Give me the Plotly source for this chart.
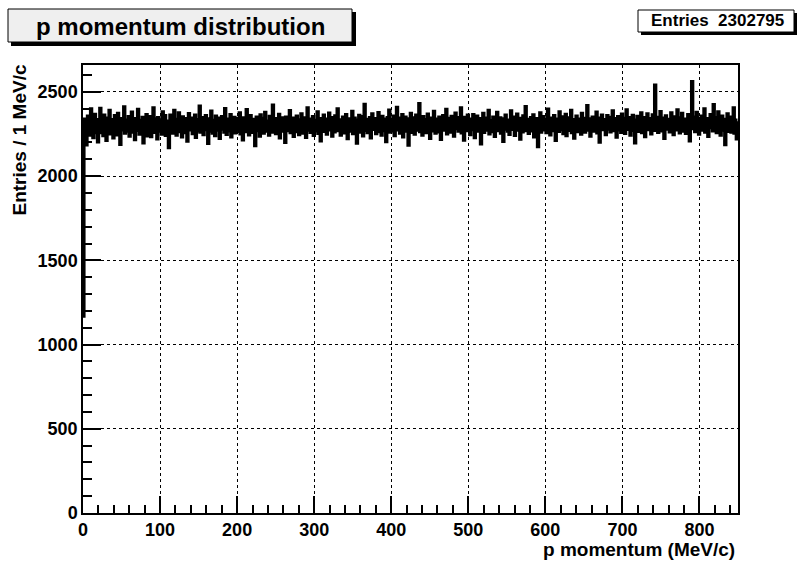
import plotly.graph_objects as go

# ---- data ----
title_text = "p momentum distribution"
stats_text = "Entries  2302795"
x_title = "p momentum (MeV/c)"
y_title = "Entries / 1 MeV/c"
bin_width = 1
x_min, x_max = 0, 850
y_min, y_max = 0, 2660

counts = [
    1170, 2291, 2338, 2262, 2187, 2315, 2356, 2274, 2302, 2245, 2398, 2321, 2283, 2230, 2347, 2366, 2259, 2312, 2290, 2205,
    2334, 2278, 2401, 2259, 2317, 2296, 2241, 2362, 2288, 2325, 2213, 2344, 2306, 2270, 2389, 2252, 2319, 2297, 2335, 2228,
    2281, 2358, 2310, 2246, 2303, 2372, 2265, 2329, 2190, 2294, 2341, 2276, 2318, 2410, 2257, 2300, 2332, 2269, 2287, 2353,
    2238, 2311, 2296, 2379, 2262, 2324, 2285, 2218, 2340, 2307, 2273, 2395, 2292, 2251, 2330, 2316, 2264, 2348, 2199, 2309,
    2327, 2283, 2365, 2240, 2299, 2314, 2271, 2352, 2236, 2320, 2288, 2405, 2261, 2305, 2339, 2278, 2223, 2346, 2295, 2312,
    2268, 2333, 2250, 2380, 2301, 2286, 2358, 2243, 2317, 2294, 2325, 2170, 2306, 2361, 2279, 2338, 2257, 2299, 2390, 2272,
    2313, 2245, 2336, 2289, 2374, 2266, 2302, 2327, 2234, 2351, 2293, 2318, 2260, 2341, 2284, 2209, 2322, 2370, 2276, 2305,
    2296, 2343, 2254, 2318, 2287, 2362, 2231, 2309, 2335, 2270, 2299, 2415, 2263, 2324, 2282, 2347, 2248, 2311, 2290, 2358,
    2277, 2321, 2195, 2339, 2303, 2268, 2385, 2292, 2256, 2330, 2314, 2241, 2356, 2285, 2308, 2274, 2344, 2226, 2319, 2297,
    2352, 2280, 2329, 2262, 2400, 2306, 2249, 2337, 2291, 2315, 2270, 2364, 2235, 2301, 2326, 2283, 2348, 2258, 2311, 2293,
    2340, 2267, 2304, 2375, 2252, 2323, 2288, 2217, 2345, 2298, 2312, 2265, 2394, 2279, 2330, 2246, 2307, 2359, 2284, 2320,
    2261, 2336, 2290, 2183, 2317, 2349, 2272, 2305, 2328, 2239, 2363, 2295, 2281, 2342, 2256, 2310, 2378, 2268, 2301, 2325,
    2287, 2244, 2354, 2299, 2318, 2263, 2420, 2277, 2331, 2292, 2253, 2340, 2308, 2275, 2366, 2228, 2314, 2296, 2345, 2269,
    2323, 2285, 2201, 2350, 2306, 2271, 2337, 2294, 2388, 2259, 2316, 2282, 2343, 2237, 2309, 2327, 2266, 2355, 2291, 2302,
    2248, 2333, 2278, 2369, 2300, 2257, 2321, 2289, 2345, 2232, 2312, 2404, 2274, 2297, 2338, 2261, 2319, 2286, 2352, 2243,
    2307, 2330, 2270, 2293, 2381, 2255, 2324, 2298, 2210, 2341, 2283, 2315, 2362, 2267, 2304, 2337, 2250, 2318, 2292, 2373,
    2276, 2309, 2346, 2238, 2322, 2295, 2264, 2357, 2286, 2313, 2398, 2272, 2301, 2333, 2245, 2326, 2289, 2349, 2258, 2311,
    2297, 2365, 2280, 2224, 2339, 2305, 2269, 2328, 2291, 2383, 2254, 2316, 2343, 2277, 2308, 2197, 2331, 2296, 2360, 2263,
    2320, 2284, 2352, 2240, 2312, 2425, 2273, 2299, 2336, 2260, 2318, 2288, 2347, 2229, 2306, 2369, 2279, 2324, 2293, 2341,
    2253, 2310, 2287, 2376, 2266, 2329, 2302, 2245, 2354, 2295, 2318, 2271, 2338, 2206, 2304, 2347, 2283, 2391, 2262, 2315,
    2298, 2334, 2270, 2356, 2242, 2321, 2289, 2408, 2276, 2305, 2343, 2257, 2327, 2293, 2364, 2235, 2312, 2280, 2350, 2268,
    2309, 2326, 2186, 2339, 2294, 2372, 2261, 2316, 2285, 2345, 2250, 2303, 2361, 2274, 2320, 2297, 2430, 2266, 2331, 2289,
    2244, 2353, 2307, 2279, 2335, 2259, 2318, 2367, 2282, 2300, 2226, 2344, 2291, 2325, 2270, 2384, 2304, 2256, 2337, 2295,
    2313, 2264, 2349, 2287, 2219, 2330, 2301, 2359, 2275, 2322, 2290, 2396, 2252, 2316, 2342, 2278, 2307, 2263, 2354, 2298,
    2327, 2239, 2311, 2373, 2284, 2303, 2346, 2268, 2319, 2292, 2405, 2258, 2334, 2286, 2215, 2348, 2299, 2321, 2272, 2362,
    2290, 2310, 2247, 2338, 2302, 2277, 2365, 2294, 2230, 2327, 2314, 2355, 2269, 2300, 2341, 2283, 2192, 2323, 2296, 2371,
    2261, 2318, 2289, 2343, 2274, 2306, 2390, 2252, 2329, 2298, 2312, 2266, 2350, 2285, 2237, 2336, 2304, 2378, 2271, 2316,
    2293, 2345, 2256, 2322, 2300, 2208, 2339, 2281, 2361, 2297, 2315, 2268, 2332, 2249, 2308, 2387, 2279, 2325, 2291, 2349,
    2243, 2311, 2295, 2368, 2275, 2330, 2287, 2221, 2342, 2306, 2264, 2357, 2298, 2319, 2412, 2272, 2303, 2336, 2255, 2324,
    2289, 2347, 2270, 2308, 2363, 2234, 2317, 2294, 2340, 2282, 2176, 2326, 2301, 2374, 2262, 2313, 2288, 2352, 2276, 2299,
    2335, 2259, 2320, 2397, 2284, 2307, 2246, 2344, 2292, 2329, 2271, 2358, 2303, 2214, 2338, 2286, 2315, 2267, 2380, 2296,
    2324, 2278, 2351, 2254, 2310, 2290, 2366, 2241, 2327, 2302, 2345, 2273, 2312, 2389, 2260, 2334, 2298, 2227, 2320, 2284,
    2356, 2305, 2266, 2337, 2292, 2318, 2250, 2371, 2281, 2309, 2342, 2263, 2326, 2295, 2418, 2274, 2303, 2339, 2238, 2315,
    2287, 2350, 2299, 2269, 2332, 2306, 2379, 2258, 2321, 2284, 2203, 2344, 2301, 2362, 2277, 2316, 2293, 2335, 2248, 2310,
    2359, 2280, 2325, 2296, 2264, 2348, 2304, 2386, 2271, 2319, 2289, 2340, 2233, 2307, 2353, 2276, 2329, 2297, 2261, 2367,
    2285, 2314, 2342, 2255, 2308, 2392, 2279, 2323, 2290, 2346, 2244, 2312, 2300, 2360, 2273, 2331, 2198, 2318, 2288, 2354,
    2267, 2305, 2338, 2282, 2375, 2259, 2321, 2294, 2347, 2236, 2313, 2302, 2369, 2278, 2326, 2287, 2341, 2252, 2309, 2363,
    2296, 2273, 2540, 2315, 2284, 2348, 2261, 2330, 2299, 2382, 2270, 2318, 2290, 2343, 2225, 2307, 2357, 2281, 2324, 2295,
    2336, 2264, 2311, 2374, 2287, 2320, 2248, 2351, 2301, 2329, 2276, 2393, 2292, 2316, 2258, 2345, 2305, 2372, 2268, 2314,
    2289, 2338, 2255, 2322, 2300, 2364, 2279, 2211, 2333, 2297, 2560, 2318, 2284, 2349, 2266, 2310, 2377, 2291, 2327, 2250,
    2343, 2302, 2274, 2356, 2318, 2285, 2398, 2262, 2325, 2306, 2340, 2237, 2312, 2289, 2365, 2296, 2331, 2270, 2423, 2308,
    2281, 2347, 2259, 2316, 2380, 2293, 2327, 2244, 2310, 2355, 2275, 2320, 2298, 2188, 2336, 2302, 2369, 2267, 2313, 2286,
    2350, 2263, 2319, 2295, 2404, 2257, 2331, 2290, 2222, 2315,
]

# ---- layout geometry (pixels) ----
W, H = 803, 563
L, R, T, B = 83, 65, 65, 50
PW, PH = W - L - R, H - T - B


def px(xp):
    return (xp - L) / PW


def py(yp):
    return (H - B - yp) / PH


edges = [x_min + i * bin_width for i in range(len(counts) + 1)]
yvals = counts + [counts[-1]]

fig = go.Figure()
fig.add_trace(go.Scatter(
    x=edges, y=yvals, mode="lines", line=dict(color="black", width=3.6, shape="hv"),
    hoverinfo="skip", showlegend=False,
))

font_fam = "Liberation Sans, Arial, Helvetica, sans-serif"

axis_common = dict(
    showline=True, linecolor="black", linewidth=1.5, mirror=True,
    ticks="inside", tickcolor="black", tickwidth=1.5,
    showgrid=True, gridcolor="black", gridwidth=1, griddash="dot",
    zeroline=False,
    tickfont=dict(family=font_fam, size=18, color="black", weight="bold"),
)

fig.update_xaxes(
    range=[x_min, x_max], dtick=100, tick0=0, ticklen=17,
    minor=dict(ticks="inside", dtick=20, ticklen=8, tickcolor="black", tickwidth=1.5, showgrid=False),
    **axis_common,
)
fig.update_yaxes(
    range=[y_min, y_max], dtick=500, tick0=0, ticklen=18,
    minor=dict(ticks="inside", dtick=100, ticklen=9, tickcolor="black", tickwidth=1.5, showgrid=False),
    **axis_common,
)

shapes = [
    # title box shadow + box
    dict(type="rect", xref="paper", yref="paper", x0=px(11), x1=px(356), y0=py(46), y1=py(12),
         fillcolor="black", line=dict(width=0), layer="above"),
    dict(type="rect", xref="paper", yref="paper", x0=px(8), x1=px(352), y0=py(42), y1=py(9),
         fillcolor="#efefef", line=dict(color="black", width=1), layer="above"),
    # stats box shadow + box
    dict(type="rect", xref="paper", yref="paper", x0=px(641), x1=px(797), y0=py(35), y1=py(13),
         fillcolor="black", line=dict(width=0), layer="above"),
    dict(type="rect", xref="paper", yref="paper", x0=px(638), x1=px(794), y0=py(32), y1=py(10),
         fillcolor="white", line=dict(color="black", width=1), layer="above"),
]

annotations = [
    dict(text=title_text, xref="paper", yref="paper", x=px(180), y=py(26),
         xanchor="center", yanchor="middle", showarrow=False,
         font=dict(family=font_fam, size=24, color="black", weight="bold")),
    dict(text=stats_text, xref="paper", yref="paper", x=px(717), y=py(21),
         xanchor="center", yanchor="middle", showarrow=False,
         font=dict(family=font_fam, size=17, color="black", weight="bold")),
    dict(text=y_title, xref="paper", yref="paper", x=px(19), y=py(63),
         xanchor="center", yanchor="top", textangle=-90, showarrow=False,
         font=dict(family=font_fam, size=19, color="black", weight="bold")),
    dict(text=x_title, xref="paper", yref="paper", x=px(737), y=py(549),
         xanchor="right", yanchor="middle", showarrow=False,
         font=dict(family=font_fam, size=19, color="black", weight="bold")),
]

fig.update_layout(
    width=W, height=H,
    margin=dict(l=L, r=R, t=T, b=B, autoexpand=False),
    paper_bgcolor="white", plot_bgcolor="white",
    shapes=shapes, annotations=annotations,
    showlegend=False,
)

fig.write_html("out.html")
